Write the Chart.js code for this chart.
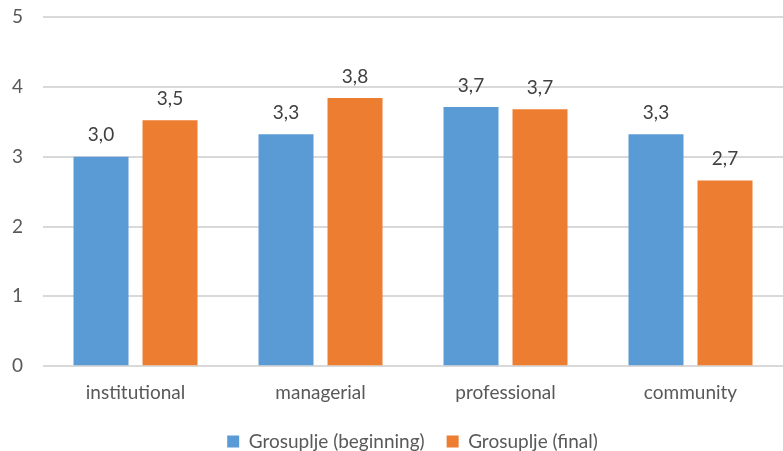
<!DOCTYPE html>
<html><head><meta charset="utf-8">
<script src="https://cdn.jsdelivr.net/npm/chart.js@4/dist/chart.umd.min.js"></script>
<style>html,body{margin:0;padding:0;background:#fff}#wrap{width:783px;height:451px}</style>
</head><body><div id="wrap"><canvas id="c"></canvas></div>
<script>
const categories = ["institutional", "managerial", "professional", "community"];
const beginning = [3.0, 3.32, 3.71, 3.32];
const finalVals = [3.52, 3.84, 3.68, 2.66];
const seriesNames = ["Grosuplje (beginning)", "Grosuplje (final)"];
const yTicks = [0, 1, 2, 3, 4, 5];

const FONT = "Lato, 'Open Sans', sans-serif";
const FS = 19;

const labelPlugin = {
  id: 'barLabels',
  afterDatasetsDraw(chart) {
    const ctx = chart.ctx;
    ctx.save();
    ctx.font = FS + "px " + FONT;
    ctx.fillStyle = "#404040";
    ctx.textAlign = "center";
    ctx.textBaseline = "bottom";
    chart.data.datasets.forEach((ds, i) => {
      chart.getDatasetMeta(i).data.forEach((bar, j) => {
        ctx.fillText(ds.data[j].toFixed(1).replace('.', ','), bar.x, bar.y - 12);
      });
    });
    ctx.restore();
  }
};

const legendShift = {
  id: 'legendShift',
  afterLayout(chart) {
    if (chart.legend) { chart.legend.left += 25; chart.legend.right += 25; }
  }
};

new Chart(document.getElementById('c'), {
  type: 'bar',
  data: {
    labels: categories,
    datasets: [
      { label: seriesNames[0], data: beginning, backgroundColor: '#5B9BD5' },
      { label: seriesNames[1], data: finalVals, backgroundColor: '#ED7D31' }
    ]
  },
  options: {
    responsive: true,
    maintainAspectRatio: false,
    animation: false,
    layout: { padding: { top: 17, right: 0, left: -8, bottom: -10 } },
    datasets: { bar: { categoryPercentage: 0.746, barPercentage: 0.797 } },
    plugins: {
      legend: {
        position: 'bottom',
        labels: { boxWidth: 12, boxHeight: 12, font: { size: FS, family: FONT }, color: '#595959', padding: 22 }
      },
      tooltip: { enabled: false }
    },
    scales: {
      x: {
        grid: { display: false },
        border: { display: false },
        ticks: { font: { size: FS, family: FONT }, color: '#595959', padding: 7 },
        afterFit(axis) { axis.height -= 1; }
      },
      y: {
        min: 0, max: 5,
        afterBuildTicks(axis) { axis.ticks = yTicks.map(v => ({ value: v })); },
        afterFit(axis) { axis.paddingTop = 0; axis.paddingBottom = 0; },
        grid: { color: '#d9d9d9', lineWidth: 2, drawTicks: false },
        border: { display: false },
        ticks: { font: { size: FS, family: FONT }, color: '#595959', padding: 20 }
      }
    }
  },
  plugins: [labelPlugin, legendShift]
});
</script></body></html>
